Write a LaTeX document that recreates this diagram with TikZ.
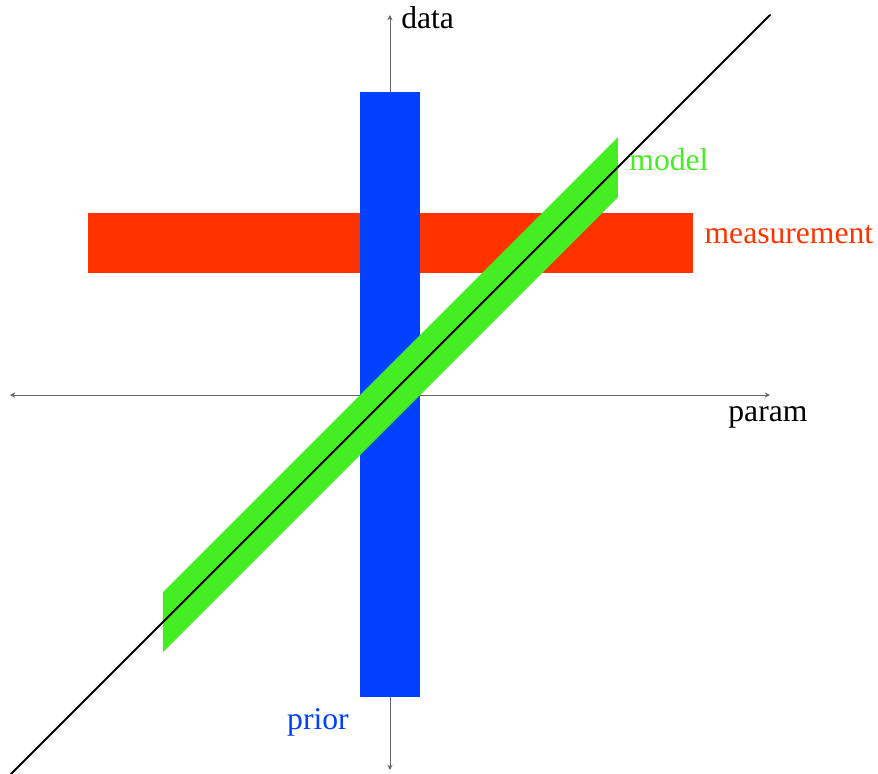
\documentclass[tikz,border=0pt]{standalone}
\usepackage{fontspec}
\setmainfont{Liberation Serif}
\usetikzlibrary{arrows.meta}
\definecolor{priorblue}{RGB}{0,64,255}
\definecolor{measred}{RGB}{255,51,0}
\definecolor{modelgreen}{RGB}{68,238,34}
\begin{document}
\begin{tikzpicture}[x=0.6cm, y=0.6cm, line join=round, line cap=round,
    lbl/.style={font=\fontsize{18}{20}\selectfont, inner sep=2pt},
    axis/.style={black!60, line width=0.5pt, {Stealth[length=3pt,width=3pt]}-{Stealth[length=3pt,width=3pt]}}]
      \useasboundingbox (-13,-12.63) rectangle (16.27,13.17);

      \coordinate (W) at (-12.67,0);
      \coordinate (E) at (12.67,0);
      \coordinate (S) at (0,-12.5);
      \coordinate (N) at (0,12.67);
      \coordinate (L) at (-12.67,-12.67);
      \coordinate (U) at (12.67,12.67);

      \draw[axis] (W) -- (E);
      \draw[axis] (S) -- (N);

      \fill[measred] (-10.07,4.07) rectangle (10.1,6.07);
      \fill[priorblue] (-1,-10.07) rectangle (1,10.1);
      \fill[modelgreen] (-7.57,-8.57) -- (-7.57,-6.57) -- (7.6,8.6) -- (7.6,6.6) -- cycle;

      \draw[line width=1.2pt] (L) -- (U);

      \node[lbl, anchor=west] (data) at (0.25,12.57) {data};
      \node[lbl] (param) at (12.6,-0.75) {param};
      \node[lbl, text=modelgreen] (model) at (9.3,7.83) {model};
      \node[lbl, text=measred] (meas) at (13.3,5.33) {measurement};
      \node[lbl, text=priorblue] (prior) at (-2.4,-10.9) {prior};
    \end{tikzpicture}
\end{document}
